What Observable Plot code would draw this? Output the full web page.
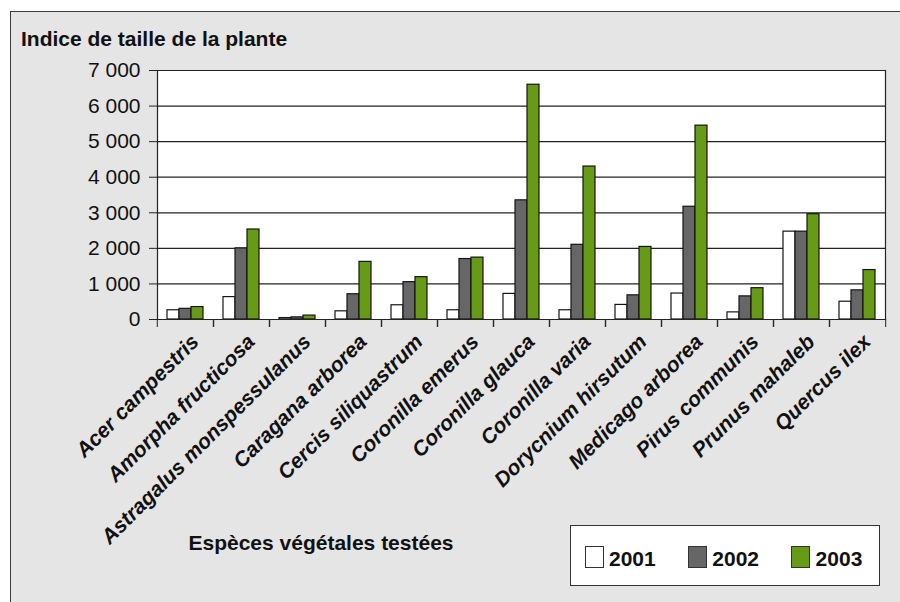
<!DOCTYPE html>
<html><head><meta charset="utf-8">
<script src="https://cdn.jsdelivr.net/npm/d3@7"></script>
<script src="https://cdn.jsdelivr.net/npm/@observablehq/plot@0.6"></script>
<style>
html,body{margin:0;padding:0;background:#fff;}
#wrap{position:relative;width:900px;height:602px;overflow:hidden;font-family:"Liberation Sans",Arial,Helvetica,sans-serif;color:#111;}
#panel{position:absolute;left:10px;top:11px;width:900px;height:600px;background:#e5e5e5;border-left:1.5px solid #3c3c3c;border-top:1.5px solid #3c3c3c;}
#chart{position:absolute;left:0;top:0;}
.txt{position:absolute;font-weight:bold;font-size:21px;line-height:21px;white-space:nowrap;}
#legend{position:absolute;left:569.5px;top:525px;width:308px;height:59px;background:#fff;border:1.4px solid #333;}
.item{position:absolute;top:0;height:59px;}
.sw{position:absolute;top:19.5px;left:0;width:17px;height:20px;border:1.3px solid #333;}
.lab{position:absolute;top:21.5px;left:24.5px;font-weight:bold;font-size:21px;line-height:21px;}
</style></head>
<body>
<div id="wrap">
  <div id="panel"></div>
  <div id="chart"></div>
  <div class="txt" style="left:21px;top:28px;">Indice de taille de la plante</div>
  <div class="txt" style="left:188.5px;top:531.5px;">Espèces végétales testées</div>
  <div id="legend"></div>
</div>
<script>
const species = ["Acer campestris","Amorpha fructicosa","Astragalus monspessulanus","Caragana arborea","Cercis siliquastrum","Coronilla emerus","Coronilla glauca","Coronilla varia","Dorycnium hirsutum","Medicago arborea","Pirus communis","Prunus mahaleb","Quercus ilex"];
const years = ["2001","2002","2003"];
const v2001 = [260, 630, 40, 230, 400, 260, 720, 260, 410, 730, 200, 2470, 500];
const v2002 = [300, 2000, 60, 710, 1050, 1700, 3350, 2100, 680, 3170, 650, 2470, 820];
const v2003 = [350, 2530, 110, 1620, 1190, 1740, 6600, 4300, 2040, 5450, 880, 2960, 1390];
const colors = ["#ffffff", "#666666", "#679a16"];
const yTicks = [0, 1000, 2000, 3000, 4000, 5000, 6000, 7000];

const series = [v2001, v2002, v2003];
const table = species.flatMap((s, i) => years.map((y, j) => ({species: s, year: y, value: series[j][i]})));

const W = 900, H = 602, mL = 154, mR = 13, mT = 70, mB = 283;
const step = (W - mL - mR) / species.length;
const fmt = d => d3.format(",")(d).replace(/,/g, " ");

const chart = Plot.plot({
  width: W, height: H,
  marginLeft: mL, marginRight: mR, marginTop: mT, marginBottom: mB,
  style: {background: "transparent", fontFamily: "'Liberation Sans', Arial, sans-serif", fontSize: "21px", color: "#111", overflow: "visible"},
  fx: {domain: species, padding: 0, label: null},
  x: {domain: years, paddingInner: 0, paddingOuter: 0.72, axis: null},
  y: {domain: [0, 7000], label: null},
  color: {domain: years, range: colors},
  marks: [
    Plot.frame({fill: "white", stroke: "none", shapeRendering: "crispEdges"}),
    Plot.gridY({ticks: yTicks, stroke: "#222", strokeOpacity: 1, strokeWidth: 1.2}),
    Plot.barY(table, {fx: "species", x: "year", y: "value", fill: "year", stroke: "#151515", strokeWidth: 1.2}),
    Plot.ruleY([0], {stroke: "#222", strokeWidth: 1.2}),
    Plot.frame({anchor: "left", facetAnchor: "left", stroke: "#222", strokeWidth: 1.2}),
    Plot.frame({anchor: "right", facetAnchor: "right", stroke: "#222", strokeWidth: 1.2}),
    Plot.axisY({ticks: yTicks, tickSize: 8, tickPadding: 9, tickFormat: fmt, label: null, fontSize: 21, stroke: "#222"}),
    Plot.axisFx({anchor: "bottom", tickSize: 8, tickFormat: () => "", label: null, dx: -step / 2, stroke: "#222"}),
    Plot.axisFx({anchor: "bottom", tickSize: 8, tickFormat: () => "", label: null, dx: step / 2, stroke: "#222"}),
    Plot.text(species, {fx: d => d, text: d => d, frameAnchor: "bottom", rotate: -45, textAnchor: "end", lineAnchor: "top", dx: 4, dy: 13, fontSize: 21, fontWeight: "bold", fontStyle: "italic", fill: "#111"})
  ]
});
document.getElementById("chart").appendChild(chart);

const legend = document.getElementById("legend");
years.forEach((y, i) => {
  const it = document.createElement("div");
  it.className = "item";
  it.style.left = (14 + i * 103.3) + "px";
  const sw = document.createElement("div");
  sw.className = "sw";
  sw.style.background = colors[i];
  const lb = document.createElement("div");
  lb.className = "lab";
  lb.textContent = y;
  it.appendChild(sw); it.appendChild(lb);
  legend.appendChild(it);
});
</script>
</body></html>
